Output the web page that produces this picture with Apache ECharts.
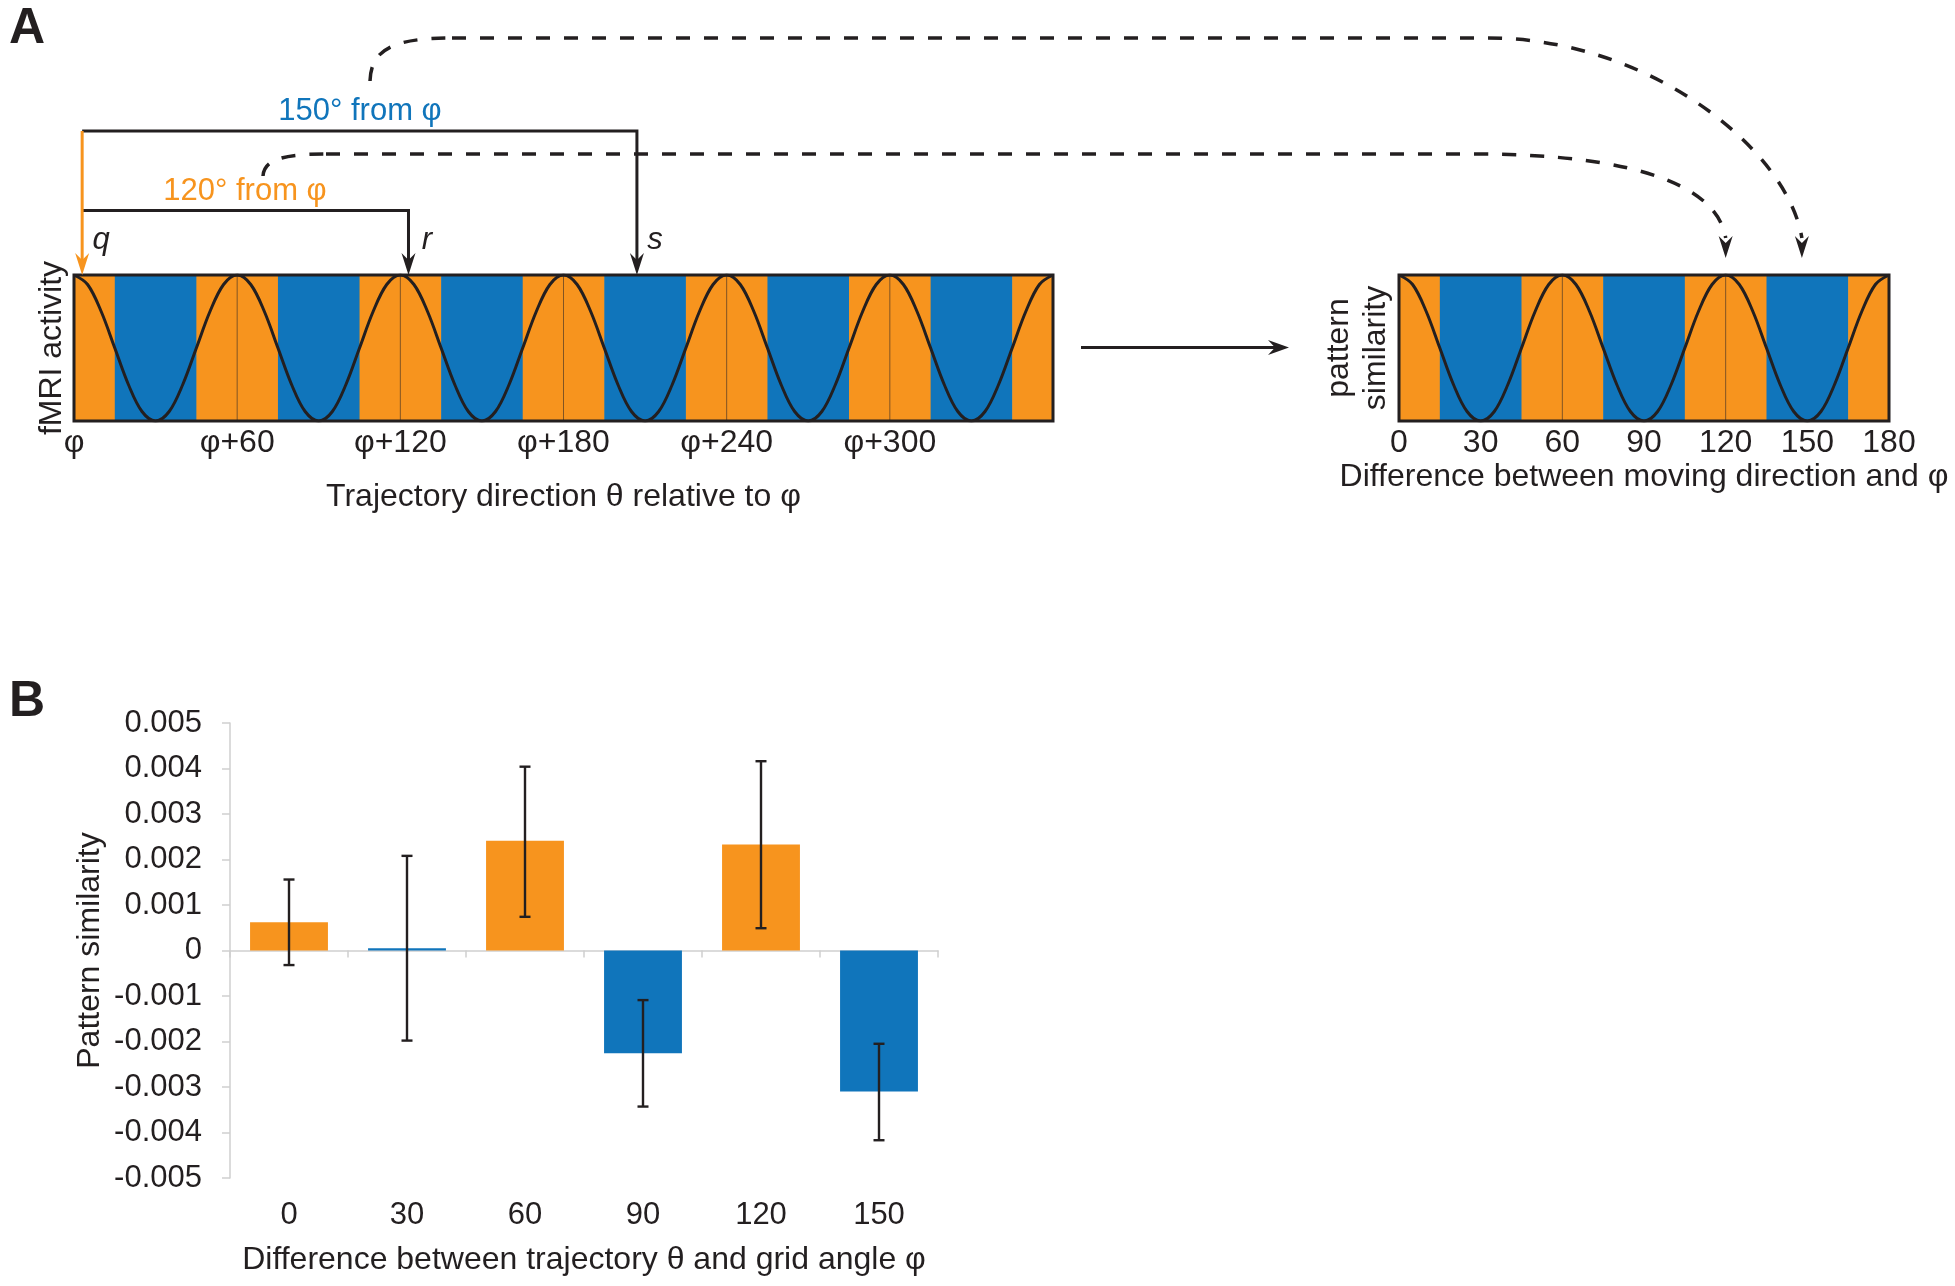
<!DOCTYPE html>
<html><head><meta charset="utf-8">
<script src="https://cdn.jsdelivr.net/npm/echarts@6/dist/echarts.min.js"></script>
<style>html,body{margin:0;padding:0;background:#fff}#c{width:1955px;height:1286px}</style>
</head><body><div id="c"></div>
<script>
// ---------- data ----------
// Panel A, left strip: trajectory direction relative to φ (degrees)
const leftTickLabels = ['φ', 'φ+60', 'φ+120', 'φ+180', 'φ+240', 'φ+300', ''];
const leftBandEdges = [0, 15, 45, 75, 105, 135, 165, 195, 225, 255, 285, 315, 345, 360];
const leftBandKinds = ['peak', 'trough', 'peak', 'trough', 'peak', 'trough', 'peak', 'trough', 'peak', 'trough', 'peak', 'trough', 'peak'];
const leftGuides = [60, 120, 180, 240, 300];
const leftAngles = [0, 5, 10, 15, 20, 25, 30, 35, 40, 45, 50, 55, 60, 65, 70, 75, 80, 85, 90, 95, 100, 105, 110, 115, 120, 125, 130, 135, 140, 145, 150, 155, 160, 165, 170, 175, 180, 185, 190, 195, 200, 205, 210, 215, 220, 225, 230, 235, 240, 245, 250, 255, 260, 265, 270, 275, 280, 285, 290, 295, 300, 305, 310, 315, 320, 325, 330, 335, 340, 345, 350, 355, 360];
const leftActivity = [1, 0.87, 0.5, 0, -0.5, -0.87, -1, -0.87, -0.5, 0, 0.5, 0.87,
  1, 0.87, 0.5, 0, -0.5, -0.87, -1, -0.87, -0.5, 0, 0.5, 0.87,
  1, 0.87, 0.5, 0, -0.5, -0.87, -1, -0.87, -0.5, 0, 0.5, 0.87,
  1, 0.87, 0.5, 0, -0.5, -0.87, -1, -0.87, -0.5, 0, 0.5, 0.87,
  1, 0.87, 0.5, 0, -0.5, -0.87, -1, -0.87, -0.5, 0, 0.5, 0.87,
  1, 0.87, 0.5, 0, -0.5, -0.87, -1, -0.87, -0.5, 0, 0.5, 0.87, 1];
const arrowAngles = { q: 3, r: 123, s: 207 };

// Panel A, right strip: difference between moving direction and φ
const rightTickLabels = ['0', '30', '60', '90', '120', '150', '180'];
const rightBandEdges = [0, 15, 45, 75, 105, 135, 165, 180];
const rightBandKinds = ['peak', 'trough', 'peak', 'trough', 'peak', 'trough', 'peak'];
const rightGuides = [60, 120];
const rightAngles = [0, 5, 10, 15, 20, 25, 30, 35, 40, 45, 50, 55, 60, 65, 70, 75, 80, 85, 90, 95, 100, 105, 110, 115, 120, 125, 130, 135, 140, 145, 150, 155, 160, 165, 170, 175, 180];
const rightSimilarity = [1, 0.87, 0.5, 0, -0.5, -0.87, -1, -0.87, -0.5, 0, 0.5, 0.87,
  1, 0.87, 0.5, 0, -0.5, -0.87, -1, -0.87, -0.5, 0, 0.5, 0.87,
  1, 0.87, 0.5, 0, -0.5, -0.87, -1, -0.87, -0.5, 0, 0.5, 0.87, 1];
const targetAngles = { r: 120, s: 148 };

// Panel B: bar chart
const categories = ['0', '30', '60', '90', '120', '150'];
const barKinds = ['peak', 'trough', 'peak', 'trough', 'peak', 'trough'];
const similarity = [0.00062, 0.00005, 0.00241, -0.00226, 0.00233, -0.0031];
const errLow = [-0.00032, -0.00198, 0.00074, -0.00343, 0.00049, -0.00417];
const errHigh = [0.00156, 0.00208, 0.00404, -0.00109, 0.00416, -0.00205];
const yTickLabels = ['-0.005', '-0.004', '-0.003', '-0.002', '-0.001', '0', '0.001', '0.002', '0.003', '0.004', '0.005'];

// ---------- style ----------
const ORANGE = '#F7941E', BLUE = '#1075BB', INK = '#231F20', GRAY = '#CFCFCF';
const FONT = '"Liberation Sans", Arial, Helvetica, sans-serif';
const kindColor = k => (k === 'peak' ? ORANGE : BLUE);

function bandSeries(idx, edges, kinds) {
  return {
    type: 'custom', xAxisIndex: idx, yAxisIndex: idx, z: 1, silent: true,
    data: kinds.map((k, i) => [edges[i], edges[i + 1]]),
    encode: { x: [0, 1] },
    renderItem(params, api) {
      const p0 = api.coord([api.value(0), 1]);
      const p1 = api.coord([api.value(1), -1]);
      return { type: 'rect', shape: { x: p0[0], y: p0[1], width: p1[0] - p0[0] + 0.6, height: p1[1] - p0[1] },
        style: { fill: kindColor(kinds[params.dataIndex]) } };
    }
  };
}
function guideSeries(idx, guides) {
  return {
    type: 'custom', xAxisIndex: idx, yAxisIndex: idx, z: 2, silent: true,
    data: guides.map(v => [v]),
    encode: { x: 0 },
    renderItem(params, api) {
      const a = api.coord([api.value(0), 1]);
      const b = api.coord([api.value(0), -1]);
      return { type: 'line', shape: { x1: a[0], y1: a[1], x2: b[0], y2: b[1] },
        style: { stroke: '#5A3F26', lineWidth: 1, opacity: 0.75 } };
    }
  };
}
function curveSeries(idx, xs, ys) {
  return {
    type: 'line', xAxisIndex: idx, yAxisIndex: idx, z: 3, silent: true,
    smooth: 0.35, symbol: 'none',
    data: xs.map((x, i) => [x, ys[i]]),
    lineStyle: { color: INK, width: 3 }
  };
}

const labelStyle = { color: INK, fontFamily: FONT };
const stripGrid = (left, width) => ({ left, top: 275, width, height: 146, show: true,
  borderColor: INK, borderWidth: 3, backgroundColor: 'rgba(0,0,0,0)', z: 10,
  containLabel: false, outerBoundsMode: 'none' });

const option = {
  animation: false,
  backgroundColor: '#fff',
  textStyle: { fontFamily: FONT },
  grid: [
    stripGrid(74, 979),
    stripGrid(1399, 490),
    { left: 230, top: 723, width: 708, height: 455, containLabel: false, outerBoundsMode: 'none' }
  ],
  xAxis: [
    { type: 'value', gridIndex: 0, min: 0, max: 360, interval: 60,
      axisLine: { show: false }, axisTick: { show: false }, splitLine: { show: false },
      axisLabel: { ...labelStyle, fontSize: 32, margin: 6, formatter: v => leftTickLabels[Math.round(v / 60)] },
      name: 'Trajectory direction θ relative to φ', nameLocation: 'middle', nameGap: 60, nameMoveOverlap: false,
      nameTextStyle: { ...labelStyle, fontSize: 32 } },
    { type: 'value', gridIndex: 1, min: 0, max: 180, interval: 30,
      axisLine: { show: false }, axisTick: { show: false }, splitLine: { show: false },
      axisLabel: { ...labelStyle, fontSize: 32, margin: 6, formatter: v => rightTickLabels[Math.round(v / 30)] },
      name: 'Difference between moving direction and φ', nameLocation: 'middle', nameGap: 40, nameMoveOverlap: false,
      nameTextStyle: { ...labelStyle, fontSize: 32 } },
    { type: 'category', gridIndex: 2, data: categories, position: 'bottom',
      axisLine: { show: true, onZero: true, lineStyle: { color: GRAY, width: 1.5 } },
      axisTick: { show: true, length: 7, lineStyle: { color: GRAY, width: 1.5 } },
      axisLabel: { show: false }, splitLine: { show: false } },
    { type: 'category', gridIndex: 2, data: categories, position: 'bottom',
      axisLine: { show: false, onZero: false }, axisTick: { show: false },
      axisLabel: { ...labelStyle, fontSize: 31, margin: 22 },
      name: 'Difference between trajectory θ and grid angle φ', nameLocation: 'middle', nameGap: 66, nameMoveOverlap: false,
      nameTextStyle: { ...labelStyle, fontSize: 32 } }
  ],
  yAxis: [
    { type: 'value', gridIndex: 0, min: -1, max: 1,
      axisLine: { show: false }, axisTick: { show: false }, axisLabel: { show: false }, splitLine: { show: false },
      name: 'fMRI activity', nameLocation: 'middle', nameRotate: 90, nameGap: 6, nameMoveOverlap: false,
      nameTextStyle: { ...labelStyle, fontSize: 32 } },
    { type: 'value', gridIndex: 1, min: -1, max: 1,
      axisLine: { show: false }, axisTick: { show: false }, axisLabel: { show: false }, splitLine: { show: false },
      name: 'pattern\nsimilarity', nameLocation: 'middle', nameRotate: 90, nameGap: 4, nameMoveOverlap: false,
      nameTextStyle: { ...labelStyle, fontSize: 32, lineHeight: 37 } },
    { type: 'value', gridIndex: 2, min: -0.005, max: 0.005, interval: 0.001,
      axisLine: { show: true, lineStyle: { color: GRAY, width: 1.5 } },
      axisTick: { show: true, length: 8, lineStyle: { color: GRAY, width: 1.5 } },
      splitLine: { show: false },
      axisLabel: { ...labelStyle, fontSize: 31, margin: 28,
        formatter: v => yTickLabels[Math.round((v + 0.005) / 0.001)] },
      name: 'Pattern similarity', nameLocation: 'middle', nameRotate: 90, nameGap: 124, nameMoveOverlap: false,
      nameTextStyle: { ...labelStyle, fontSize: 32 } }
  ],
  series: [
    bandSeries(0, leftBandEdges, leftBandKinds),
    guideSeries(0, leftGuides),
    curveSeries(0, leftAngles, leftActivity),
    bandSeries(1, rightBandEdges, rightBandKinds),
    guideSeries(1, rightGuides),
    curveSeries(1, rightAngles, rightSimilarity),
    { type: 'bar', xAxisIndex: 2, yAxisIndex: 2, barWidth: '66%', silent: true,
      data: similarity.map((v, i) => ({ value: v, itemStyle: { color: kindColor(barKinds[i]) } })) },
    { type: 'custom', xAxisIndex: 2, yAxisIndex: 2, z: 5, silent: true,
      data: categories.map((c, i) => [i, errLow[i], errHigh[i]]),
      encode: { x: 0, y: [1, 2] },
      renderItem(params, api) {
        const lo = api.coord([api.value(0), api.value(1)]);
        const hi = api.coord([api.value(0), api.value(2)]);
        const w = 5.5, st = { stroke: INK, lineWidth: 2.4 };
        return { type: 'group', children: [
          { type: 'line', shape: { x1: lo[0], y1: lo[1], x2: hi[0], y2: hi[1] }, style: st },
          { type: 'line', shape: { x1: lo[0] - w, y1: lo[1], x2: lo[0] + w, y2: lo[1] }, style: st },
          { type: 'line', shape: { x1: hi[0] - w, y1: hi[1], x2: hi[0] + w, y2: hi[1] }, style: st }
        ] };
      } }
  ]
};

const chart = echarts.init(document.getElementById('c'), null, { renderer: 'canvas' });
chart.setOption(option);

// ---------- annotations (layout) ----------
const TIP_Y = 275;                  // top edge of the strips
const Y150 = 131, Y120 = 210.5;     // bracket levels
const qx = chart.convertToPixel({ xAxisIndex: 0 }, arrowAngles.q);
const rx = chart.convertToPixel({ xAxisIndex: 0 }, arrowAngles.r);
const sx = chart.convertToPixel({ xAxisIndex: 0 }, arrowAngles.s);
const tr = chart.convertToPixel({ xAxisIndex: 1 }, targetAngles.r);
const ts = chart.convertToPixel({ xAxisIndex: 1 }, targetAngles.s);

const downHead = (x, y, color) => ({ type: 'polygon', z: 20, shape: { points: [[x, y], [x - 7, y - 22], [x, y - 15], [x + 7, y - 22]] }, style: { fill: color } });
const solid = (c, w) => ({ stroke: c, lineWidth: w, fill: null });
const dash = { stroke: INK, lineWidth: 3.5, fill: null, lineDash: [14, 14], lineCap: 'butt' };
const bez = (x1, y1, c1x, c1y, c2x, c2y, x2, y2) => ({ type: 'bezierCurve', z: 18,
  shape: { x1, y1, cpx1: c1x, cpy1: c1y, cpx2: c2x, cpy2: c2y, x2, y2 }, style: dash });
const dline = (x1, y1, x2, y2) => ({ type: 'line', z: 18, shape: { x1, y1, x2, y2 }, style: dash });

const txt = (text, x, y, color, extra) => ({ type: 'text', z: 20, style: Object.assign({ text, x, y, fill: color,
  font: `31px ${FONT}`, align: 'center', verticalAlign: 'middle' }, extra || {}) });

chart.setOption({
  graphic: [
    // brackets
    { type: 'polyline', z: 19, shape: { points: [[qx, Y150], [sx, Y150], [sx, TIP_Y - 14]] }, style: solid(INK, 3) },
    { type: 'polyline', z: 19, shape: { points: [[qx, Y120], [rx, Y120], [rx, TIP_Y - 14]] }, style: solid(INK, 3) },
    { type: 'line', z: 20, shape: { x1: qx, y1: Y150, x2: qx, y2: TIP_Y - 14 }, style: solid(ORANGE, 3) },
    downHead(qx, TIP_Y, ORANGE), downHead(rx, TIP_Y, INK), downHead(sx, TIP_Y, INK),
    // dashed mapping curves (straight parts sized to whole dash periods)
    bez(370, 81, 371, 50, 392, 38, 452, 38), dline(452, 38, 1488, 38),
    bez(1488, 38, 1650, 38, ts - 14, 150, ts, 238),
    bez(263, 176, 264, 160, 282, 154, 326, 154), dline(326, 154, 1474, 154),
    bez(1474, 154, 1642, 154, tr - 8, 188, tr, 238),
    downHead(ts, TIP_Y - 17, INK), downHead(tr, TIP_Y - 17, INK),
    // middle arrow
    { type: 'line', z: 20, shape: { x1: 1081, y1: 347.5, x2: 1276, y2: 347.5 }, style: solid(INK, 3) },
    { type: 'polygon', z: 20, shape: { points: [[1289, 347.5], [1268, 340], [1275, 347.5], [1268, 355]] }, style: { fill: INK } },
    // labels
    txt('150° from φ', 360, 111, BLUE),
    txt('120° from φ', 245, 191, ORANGE),
    txt('q', 101, 240, INK, { font: `italic 31px ${FONT}` }),
    txt('r', 427, 240, INK, { font: `italic 31px ${FONT}` }),
    txt('s', 655, 240, INK, { font: `italic 31px ${FONT}` }),
    txt('A', 27, 29, INK, { font: `bold 50px ${FONT}` }),
    txt('B', 27, 702, INK, { font: `bold 50px ${FONT}` })
  ]
});
</script>
</body></html>
